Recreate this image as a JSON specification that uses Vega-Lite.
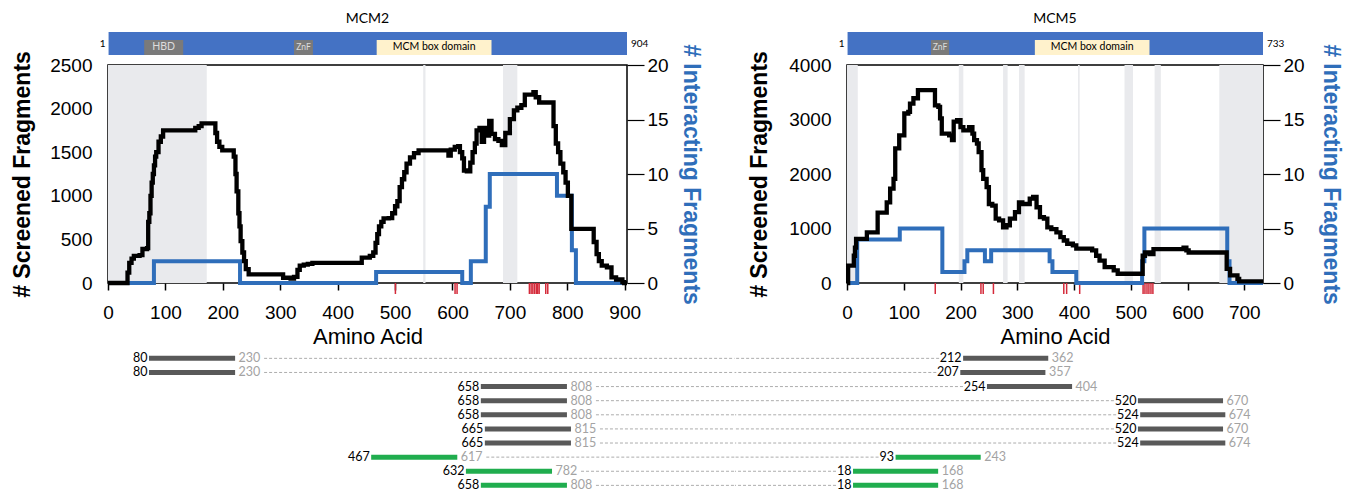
{
  "$schema": "https://vega.github.io/schema/vega-lite/v6.json",
  "background": "white",
  "padding": {"left": 10, "top": 12, "right": 5, "bottom": 3},
  "autosize": {"type": "pad"},
  "datasets": {
    "mcm2_screened": [
      {"aa":0,"n":0},{"aa":34,"n":120},{"aa":37,"n":230},{"aa":41,"n":280},{"aa":45,"n":310},{"aa":55,"n":320},{"aa":60,"n":390},{"aa":68,"n":400},{"aa":70,"n":700},{"aa":72,"n":800},{"aa":74,"n":1000},{"aa":76,"n":1150},{"aa":78,"n":1250},{"aa":80,"n":1350},{"aa":82,"n":1450},{"aa":84,"n":1500},{"aa":88,"n":1620},{"aa":92,"n":1680},{"aa":96,"n":1750},{"aa":150,"n":1750},{"aa":152,"n":1780},{"aa":158,"n":1800},{"aa":163,"n":1830},{"aa":185,"n":1830},{"aa":187,"n":1720},{"aa":190,"n":1620},{"aa":194,"n":1560},{"aa":199,"n":1520},{"aa":216,"n":1520},{"aa":219,"n":1450},{"aa":222,"n":1250},{"aa":224,"n":1050},{"aa":227,"n":800},{"aa":229,"n":650},{"aa":231,"n":480},{"aa":234,"n":350},{"aa":237,"n":250},{"aa":240,"n":160},{"aa":245,"n":100},{"aa":302,"n":100},{"aa":305,"n":60},{"aa":318,"n":50},{"aa":324,"n":70},{"aa":330,"n":150},{"aa":334,"n":200},{"aa":341,"n":210},{"aa":348,"n":220},{"aa":356,"n":230},{"aa":438,"n":230},{"aa":442,"n":290},{"aa":456,"n":310},{"aa":462,"n":350},{"aa":466,"n":460},{"aa":469,"n":560},{"aa":472,"n":650},{"aa":476,"n":700},{"aa":480,"n":740},{"aa":489,"n":745},{"aa":495,"n":800},{"aa":500,"n":880},{"aa":504,"n":940},{"aa":508,"n":1100},{"aa":512,"n":1190},{"aa":516,"n":1270},{"aa":520,"n":1370},{"aa":526,"n":1440},{"aa":533,"n":1490},{"aa":541,"n":1520},{"aa":590,"n":1520},{"aa":593,"n":1460},{"aa":597,"n":1530},{"aa":604,"n":1560},{"aa":610,"n":1570},{"aa":613,"n":1500},{"aa":617,"n":1430},{"aa":620,"n":1290},{"aa":625,"n":1280},{"aa":631,"n":1380},{"aa":635,"n":1500},{"aa":639,"n":1600},{"aa":642,"n":1750},{"aa":647,"n":1780},{"aa":651,"n":1620},{"aa":655,"n":1780},{"aa":659,"n":1690},{"aa":664,"n":1860},{"aa":668,"n":1710},{"aa":674,"n":1650},{"aa":680,"n":1630},{"aa":686,"n":1580},{"aa":692,"n":1720},{"aa":700,"n":1880},{"aa":707,"n":1980},{"aa":713,"n":2010},{"aa":720,"n":2040},{"aa":726,"n":2160},{"aa":741,"n":2190},{"aa":745,"n":2130},{"aa":751,"n":2070},{"aa":773,"n":2070},{"aa":776,"n":1800},{"aa":780,"n":1600},{"aa":784,"n":1500},{"aa":788,"n":1370},{"aa":793,"n":1270},{"aa":797,"n":1150},{"aa":801,"n":1000},{"aa":807,"n":620},{"aa":842,"n":620},{"aa":846,"n":470},{"aa":851,"n":330},{"aa":855,"n":250},{"aa":860,"n":200},{"aa":869,"n":180},{"aa":877,"n":65},{"aa":885,"n":40},{"aa":896,"n":10},{"aa":899,"n":0},{"aa":904,"n":0}
    ],
    "mcm2_interacting": [
      {"aa":0,"n":0},{"aa":80,"n":2},{"aa":230,"n":0},{"aa":467,"n":1},{"aa":617,"n":0},{"aa":632,"n":2},{"aa":658,"n":7},{"aa":665,"n":10},{"aa":782,"n":8},{"aa":808,"n":3},{"aa":815,"n":0},{"aa":904,"n":0}
    ],
    "mcm5_screened": [
      {"aa":0,"n":0},{"aa":2,"n":320},{"aa":10,"n":320},{"aa":12,"n":500},{"aa":14,"n":650},{"aa":16,"n":810},{"aa":35,"n":930},{"aa":54,"n":1290},{"aa":70,"n":1480},{"aa":76,"n":1730},{"aa":82,"n":1910},{"aa":85,"n":2470},{"aa":92,"n":2710},{"aa":101,"n":3110},{"aa":108,"n":3140},{"aa":111,"n":3290},{"aa":117,"n":3390},{"aa":125,"n":3540},{"aa":152,"n":3540},{"aa":155,"n":3260},{"aa":161,"n":3230},{"aa":164,"n":3020},{"aa":167,"n":2740},{"aa":180,"n":2710},{"aa":185,"n":2620},{"aa":188,"n":2960},{"aa":194,"n":2990},{"aa":200,"n":2860},{"aa":205,"n":2800},{"aa":215,"n":2860},{"aa":221,"n":2740},{"aa":224,"n":2620},{"aa":229,"n":2560},{"aa":232,"n":2400},{"aa":237,"n":2070},{"aa":240,"n":1910},{"aa":246,"n":1760},{"aa":250,"n":1450},{"aa":256,"n":1420},{"aa":262,"n":1180},{"aa":268,"n":1150},{"aa":275,"n":1020},{"aa":281,"n":1060},{"aa":287,"n":1180},{"aa":296,"n":1300},{"aa":303,"n":1480},{"aa":309,"n":1450},{"aa":322,"n":1550},{"aa":328,"n":1580},{"aa":334,"n":1390},{"aa":340,"n":1210},{"aa":347,"n":1180},{"aa":353,"n":1020},{"aa":360,"n":990},{"aa":369,"n":930},{"aa":376,"n":840},{"aa":382,"n":780},{"aa":388,"n":720},{"aa":398,"n":690},{"aa":404,"n":630},{"aa":432,"n":600},{"aa":439,"n":500},{"aa":445,"n":410},{"aa":454,"n":290},{"aa":470,"n":230},{"aa":477,"n":170},{"aa":518,"n":170},{"aa":521,"n":500},{"aa":525,"n":560},{"aa":533,"n":530},{"aa":540,"n":620},{"aa":590,"n":620},{"aa":593,"n":650},{"aa":598,"n":600},{"aa":602,"n":560},{"aa":667,"n":560},{"aa":669,"n":260},{"aa":675,"n":140},{"aa":688,"n":75},{"aa":691,"n":30},{"aa":733,"n":30}
    ],
    "mcm5_interacting": [
      {"aa":0,"n":0},{"aa":18,"n":4},{"aa":93,"n":5},{"aa":168,"n":1},{"aa":207,"n":2},{"aa":212,"n":3},{"aa":243,"n":2},{"aa":254,"n":3},{"aa":357,"n":2},{"aa":362,"n":1},{"aa":404,"n":0},{"aa":520,"n":2},{"aa":524,"n":5},{"aa":670,"n":2},{"aa":674,"n":0},{"aa":733,"n":0}
    ],
    "shades": [
      {"protein":"MCM2","start":0,"end":172},{"protein":"MCM2","start":549,"end":553},{"protein":"MCM2","start":688,"end":713},
      {"protein":"MCM5","start":0,"end":19},{"protein":"MCM5","start":197,"end":205},{"protein":"MCM5","start":275,"end":283},{"protein":"MCM5","start":303,"end":313},{"protein":"MCM5","start":407,"end":410},{"protein":"MCM5","start":489,"end":504},{"protein":"MCM5","start":542,"end":553},{"protein":"MCM5","start":656,"end":733}
    ],
    "sites": [
      {"protein":"MCM2","aa":500.6},{"protein":"MCM2","aa":604.5},{"protein":"MCM2","aa":608},{"protein":"MCM2","aa":734},{"protein":"MCM2","aa":737},{"protein":"MCM2","aa":740},{"protein":"MCM2","aa":743},{"protein":"MCM2","aa":746},{"protein":"MCM2","aa":748.5},{"protein":"MCM2","aa":751},{"protein":"MCM2","aa":762.5},{"protein":"MCM2","aa":766},
      {"protein":"MCM5","aa":155.5},{"protein":"MCM5","aa":236},{"protein":"MCM5","aa":240},{"protein":"MCM5","aa":258},{"protein":"MCM5","aa":382},{"protein":"MCM5","aa":387},{"protein":"MCM5","aa":410},{"protein":"MCM5","aa":521.7},{"protein":"MCM5","aa":525},{"protein":"MCM5","aa":528.6},{"protein":"MCM5","aa":532},{"protein":"MCM5","aa":535.6},{"protein":"MCM5","aa":539}
    ],
    "domains": [
      {"protein":"MCM2","kind":"protein","name":"MCM2","start":1,"end":904},
      {"protein":"MCM2","kind":"motif","name":"HBD","start":63,"end":131},
      {"protein":"MCM2","kind":"motif","name":"ZnF","start":324,"end":357},
      {"protein":"MCM2","kind":"domain","name":"MCM box domain","start":468,"end":668},
      {"protein":"MCM5","kind":"protein","name":"MCM5","start":1,"end":733},
      {"protein":"MCM5","kind":"motif","name":"ZnF","start":148,"end":180},
      {"protein":"MCM5","kind":"domain","name":"MCM box domain","start":331,"end":533}
    ],
    "fragments": [
      {"row":1,"protein":"MCM2","start":80,"end":230,"group":"1"},{"row":1,"protein":"MCM5","start":212,"end":362,"group":"1"},
      {"row":2,"protein":"MCM2","start":80,"end":230,"group":"1"},{"row":2,"protein":"MCM5","start":207,"end":357,"group":"1"},
      {"row":3,"protein":"MCM2","start":658,"end":808,"group":"1"},{"row":3,"protein":"MCM5","start":254,"end":404,"group":"1"},
      {"row":4,"protein":"MCM2","start":658,"end":808,"group":"1"},{"row":4,"protein":"MCM5","start":520,"end":670,"group":"1"},
      {"row":5,"protein":"MCM2","start":658,"end":808,"group":"1"},{"row":5,"protein":"MCM5","start":524,"end":674,"group":"1"},
      {"row":6,"protein":"MCM2","start":665,"end":815,"group":"1"},{"row":6,"protein":"MCM5","start":520,"end":670,"group":"1"},
      {"row":7,"protein":"MCM2","start":665,"end":815,"group":"1"},{"row":7,"protein":"MCM5","start":524,"end":674,"group":"1"},
      {"row":8,"protein":"MCM2","start":467,"end":617,"group":"2"},{"row":8,"protein":"MCM5","start":93,"end":243,"group":"2"},
      {"row":9,"protein":"MCM2","start":632,"end":782,"group":"2"},{"row":9,"protein":"MCM5","start":18,"end":168,"group":"2"},
      {"row":10,"protein":"MCM2","start":658,"end":808,"group":"2"},{"row":10,"protein":"MCM5","start":18,"end":168,"group":"2"}
    ]
  },
  "concat": [
    {
      "width": 519, "height": 23,
      "title": {"text": "MCM2", "font": "Lato", "fontSize": 14, "fontWeight": "normal", "offset": 6},
      "data": {"name": "domains"},
      "transform": [{"filter": "datum.protein == 'MCM2'"}],
      "layer": [
        {"transform": [{"filter": "datum.kind == 'protein'"}], "mark": {"type": "rect", "color": "#4472c4"},
         "encoding": {"x": {"field": "start", "type": "quantitative", "scale": {"domain": [0, 904], "nice": false}, "axis": null}, "x2": {"field": "end"}}},
        {"transform": [{"filter": "datum.kind == 'protein'"}], "mark": {"type": "text", "font": "Lato", "fontSize": 10, "align": "right", "dx": -3, "color": "black"},
         "encoding": {"x": {"field": "start", "type": "quantitative"}, "text": {"field": "start"}}},
        {"transform": [{"filter": "datum.kind == 'protein'"}], "mark": {"type": "text", "font": "Lato", "fontSize": 10, "align": "left", "dx": 4, "color": "black"},
         "encoding": {"x": {"field": "end", "type": "quantitative"}, "text": {"field": "end"}}},
        {"transform": [{"filter": "datum.kind == 'motif'"}], "mark": {"type": "rect", "color": "#7a7a7a"},
         "encoding": {"x": {"field": "start", "type": "quantitative"}, "x2": {"field": "end"},
           "y": {"datum": 0, "type": "quantitative", "scale": {"domain": [0, 1]}, "axis": null}, "y2": {"datum": 0.65}}},
        {"transform": [{"filter": "datum.kind == 'domain'"}], "mark": {"type": "rect", "color": "#fff2cc"},
         "encoding": {"x": {"field": "start", "type": "quantitative"}, "x2": {"field": "end"},
           "y": {"datum": 0, "type": "quantitative", "scale": {"domain": [0, 1]}, "axis": null}, "y2": {"datum": 0.65}}},
        {"transform": [{"filter": "datum.kind == 'motif' && datum.name != 'ZnF'"}, {"calculate": "(datum.start + datum.end) / 2", "as": "mid"}], "mark": {"type": "text", "font": "Lato", "fontSize": 10.5, "color": "#dcdcdc", "baseline": "middle"},
         "encoding": {"x": {"field": "mid", "type": "quantitative"}, "y": {"datum": 0.33, "type": "quantitative"}, "text": {"field": "name"}}},
        {"transform": [{"filter": "datum.name == 'ZnF'"}, {"calculate": "(datum.start + datum.end) / 2", "as": "mid"}], "mark": {"type": "text", "font": "Lato", "fontSize": 8.5, "color": "#dcdcdc", "baseline": "middle"},
         "encoding": {"x": {"field": "mid", "type": "quantitative"}, "y": {"datum": 0.33, "type": "quantitative"}, "text": {"field": "name"}}},
        {"transform": [{"filter": "datum.kind == 'domain'"}, {"calculate": "(datum.start + datum.end) / 2", "as": "mid"}], "mark": {"type": "text", "font": "Lato", "fontSize": 10.5, "color": "black", "baseline": "middle"},
         "encoding": {"x": {"field": "mid", "type": "quantitative"}, "y": {"datum": 0.33, "type": "quantitative"}, "text": {"field": "name"}}}
      ]
    },
    {
      "width": 416, "height": 23,
      "title": {"text": "MCM5", "font": "Lato", "fontSize": 14, "fontWeight": "normal", "offset": 6},
      "data": {"name": "domains"},
      "transform": [{"filter": "datum.protein == 'MCM5'"}],
      "layer": [
        {"transform": [{"filter": "datum.kind == 'protein'"}], "mark": {"type": "rect", "color": "#4472c4"},
         "encoding": {"x": {"field": "start", "type": "quantitative", "scale": {"domain": [0, 733], "nice": false}, "axis": null}, "x2": {"field": "end"}}},
        {"transform": [{"filter": "datum.kind == 'protein'"}], "mark": {"type": "text", "font": "Lato", "fontSize": 10, "align": "right", "dx": -3, "color": "black"},
         "encoding": {"x": {"field": "start", "type": "quantitative"}, "text": {"field": "start"}}},
        {"transform": [{"filter": "datum.kind == 'protein'"}], "mark": {"type": "text", "font": "Lato", "fontSize": 10, "align": "left", "dx": 4, "color": "black"},
         "encoding": {"x": {"field": "end", "type": "quantitative"}, "text": {"field": "end"}}},
        {"transform": [{"filter": "datum.kind == 'motif'"}], "mark": {"type": "rect", "color": "#7a7a7a"},
         "encoding": {"x": {"field": "start", "type": "quantitative"}, "x2": {"field": "end"},
           "y": {"datum": 0, "type": "quantitative", "scale": {"domain": [0, 1]}, "axis": null}, "y2": {"datum": 0.65}}},
        {"transform": [{"filter": "datum.kind == 'domain'"}], "mark": {"type": "rect", "color": "#fff2cc"},
         "encoding": {"x": {"field": "start", "type": "quantitative"}, "x2": {"field": "end"},
           "y": {"datum": 0, "type": "quantitative", "scale": {"domain": [0, 1]}, "axis": null}, "y2": {"datum": 0.65}}},
        {"transform": [{"filter": "datum.kind == 'motif'"}, {"calculate": "(datum.start + datum.end) / 2", "as": "mid"}], "mark": {"type": "text", "font": "Lato", "fontSize": 8.5, "color": "#dcdcdc", "baseline": "middle"},
         "encoding": {"x": {"field": "mid", "type": "quantitative"}, "y": {"datum": 0.33, "type": "quantitative"}, "text": {"field": "name"}}},
        {"transform": [{"filter": "datum.kind == 'domain'"}, {"calculate": "(datum.start + datum.end) / 2", "as": "mid"}], "mark": {"type": "text", "font": "Lato", "fontSize": 10.5, "color": "black", "baseline": "middle"},
         "encoding": {"x": {"field": "mid", "type": "quantitative"}, "y": {"datum": 0.33, "type": "quantitative"}, "text": {"field": "name"}}}
      ]
    },
    {
      "width": 519, "height": 218,
      "view": {"stroke": "black", "strokeWidth": 1.5},
      "layer": [
        {"data": {"name": "shades"}, "transform": [{"filter": "datum.protein == 'MCM2'"}],
         "mark": {"type": "rect", "color": "#e9eaed"},
         "encoding": {"x": {"field": "start", "type": "quantitative", "scale": {"domain": [0, 904], "nice": false}}, "x2": {"field": "end"}}},
        {"data": {"name": "sites"}, "transform": [{"filter": "datum.protein == 'MCM2'"}],
         "mark": {"type": "rule", "color": "#d42a3a", "strokeWidth": 1.5},
         "encoding": {"x": {"field": "aa", "type": "quantitative"}, "y": {"datum": 0, "type": "quantitative", "scale": {"domain": [0, 2500], "nice": false}, "axis": null}, "y2": {"datum": -126}}},
        {"data": {"name": "mcm2_interacting"},
         "mark": {"type": "line", "interpolate": "step-after", "color": "#2f6eba", "strokeWidth": 4},
         "encoding": {
           "x": {"field": "aa", "type": "quantitative", "scale": {"domain": [0, 904], "nice": false}},
           "y": {"field": "n", "type": "quantitative", "scale": {"domain": [0, 20], "nice": false},
             "axis": {"orient": "right", "title": "# Interacting Fragments", "values": [0,5,10,15,20], "tickSize": 17, "tickWidth": 1.2, "labelPadding": 3, "labelFontSize": 19, "titleFontSize": 23, "titleFontWeight": "bold", "titleColor": "#2f6eba", "titleX": 63, "titleBaseline": "middle"}}
         }},
        {"data": {"name": "mcm2_screened"},
         "mark": {"type": "line", "interpolate": "step-after", "color": "black", "strokeWidth": 4.3},
         "encoding": {
           "x": {"field": "aa", "type": "quantitative", "scale": {"domain": [0, 904], "nice": false},
             "axis": {"title": "Amino Acid", "values": [0,50,100,150,200,250,300,350,400,450,500,550,600,650,700,750,800,850,900], "labelExpr": "datum.value % 100 == 0 ? datum.label : ''", "tickSize": 7, "tickWidth": 1.5, "labelPadding": 13, "labelFontSize": 19, "labelFlush": false, "titleFontSize": 22, "titleFontWeight": "normal", "titleY": 43, "titleBaseline": "top"}},
           "y": {"field": "n", "type": "quantitative", "scale": {"domain": [0, 2500], "nice": false},
             "axis": {"orient": "left", "title": "# Screened Fragments", "format": "d", "values": [0,500,1000,1500,2000,2500], "ticks": false, "labelPadding": 16, "labelFontSize": 19, "titleFontSize": 23, "titleFontWeight": "bold", "titleX": -86, "titleBaseline": "middle"}}
         }}
      ],
      "resolve": {"scale": {"y": "independent"}}
    },
    {
      "width": 416, "height": 218,
      "view": {"stroke": "black", "strokeWidth": 1.5},
      "layer": [
        {"data": {"name": "shades"}, "transform": [{"filter": "datum.protein == 'MCM5'"}],
         "mark": {"type": "rect", "color": "#e9eaed"},
         "encoding": {"x": {"field": "start", "type": "quantitative", "scale": {"domain": [0, 733], "nice": false}}, "x2": {"field": "end"}}},
        {"data": {"name": "sites"}, "transform": [{"filter": "datum.protein == 'MCM5'"}],
         "mark": {"type": "rule", "color": "#d42a3a", "strokeWidth": 1.5},
         "encoding": {"x": {"field": "aa", "type": "quantitative"}, "y": {"datum": 0, "type": "quantitative", "scale": {"domain": [0, 4000], "nice": false}, "axis": null}, "y2": {"datum": -202}}},
        {"data": {"name": "mcm5_interacting"},
         "mark": {"type": "line", "interpolate": "step-after", "color": "#2f6eba", "strokeWidth": 4},
         "encoding": {
           "x": {"field": "aa", "type": "quantitative", "scale": {"domain": [0, 733], "nice": false}},
           "y": {"field": "n", "type": "quantitative", "scale": {"domain": [0, 20], "nice": false},
             "axis": {"orient": "right", "title": "# Interacting Fragments", "values": [0,5,10,15,20], "tickSize": 17, "tickWidth": 1.2, "labelPadding": 3, "labelFontSize": 19, "titleFontSize": 23, "titleFontWeight": "bold", "titleColor": "#2f6eba", "titleX": 67, "titleBaseline": "middle"}}
         }},
        {"data": {"name": "mcm5_screened"},
         "mark": {"type": "line", "interpolate": "step-after", "color": "black", "strokeWidth": 4.3},
         "encoding": {
           "x": {"field": "aa", "type": "quantitative", "scale": {"domain": [0, 733], "nice": false},
             "axis": {"title": "Amino Acid", "values": [0,50,100,150,200,250,300,350,400,450,500,550,600,650,700], "labelExpr": "datum.value % 100 == 0 ? datum.label : ''", "tickSize": 7, "tickWidth": 1.5, "labelPadding": 13, "labelFontSize": 19, "labelFlush": false, "titleFontSize": 22, "titleFontWeight": "normal", "titleY": 43, "titleBaseline": "top"}},
           "y": {"field": "n", "type": "quantitative", "scale": {"domain": [0, 4000], "nice": false},
             "axis": {"orient": "left", "title": "# Screened Fragments", "format": "d", "values": [0,1000,2000,3000,4000], "ticks": false, "labelPadding": 16, "labelFontSize": 19, "titleFontSize": 23, "titleFontWeight": "bold", "titleX": -88, "titleBaseline": "middle"}}
         }}
      ],
      "resolve": {"scale": {"y": "independent"}}
    },
    {
      "width": 519, "height": 199,
      "data": {"name": "fragments"},
      "transform": [{"filter": "datum.protein == 'MCM2'"}],
      "encoding": {"y": {"field": "row", "type": "quantitative", "scale": {"domain": [-3.63, 10.47], "reverse": true, "nice": false, "zero": false}, "axis": null}},
      "layer": [
        {"mark": {"type": "rule", "color": "#adadad", "strokeWidth": 1, "strokeDash": [3, 2], "xOffset": 29},
         "encoding": {"x": {"field": "end", "type": "quantitative", "scale": {"domain": [8.6, 912.6], "nice": false}, "axis": null}, "x2": {"datum": 1100}}},
        {"mark": {"type": "rule", "strokeWidth": 5},
         "encoding": {"x": {"field": "start", "type": "quantitative"}, "x2": {"field": "end"},
           "color": {"field": "group", "type": "nominal", "scale": {"domain": ["1", "2"], "range": ["#595959", "#20ad4e"]}, "legend": null}}},
        {"mark": {"type": "text", "font": "Lato", "fontSize": 12.5, "align": "right", "dx": -1.5, "baseline": "middle", "color": "black"},
         "encoding": {"x": {"field": "start", "type": "quantitative"}, "text": {"field": "start"}}},
        {"mark": {"type": "text", "font": "Lato", "fontSize": 12.5, "align": "left", "dx": 3.5, "baseline": "middle", "color": "#a3a3a3"},
         "encoding": {"x": {"field": "end", "type": "quantitative"}, "text": {"field": "end"}}}
      ]
    },
    {
      "width": 416, "height": 199,
      "data": {"name": "fragments"},
      "transform": [{"filter": "datum.protein == 'MCM5'"}],
      "encoding": {"y": {"field": "row", "type": "quantitative", "scale": {"domain": [-3.63, 10.47], "reverse": true, "nice": false, "zero": false}, "axis": null}},
      "layer": [
        {"mark": {"type": "rule", "color": "#adadad", "strokeWidth": 1, "strokeDash": [3, 2], "xOffset": {"expr": "datum.start < 100 ? -17 : -24"}},
         "encoding": {"x": {"field": "start", "type": "quantitative", "scale": {"domain": [7.4, 740.4], "nice": false}, "axis": null}, "x2": {"datum": -190}}},
        {"mark": {"type": "rule", "strokeWidth": 5},
         "encoding": {"x": {"field": "start", "type": "quantitative"}, "x2": {"field": "end"},
           "color": {"field": "group", "type": "nominal", "scale": {"domain": ["1", "2"], "range": ["#595959", "#20ad4e"]}, "legend": null}}},
        {"mark": {"type": "text", "font": "Lato", "fontSize": 12.5, "align": "right", "dx": -1.5, "baseline": "middle", "color": "black"},
         "encoding": {"x": {"field": "start", "type": "quantitative"}, "text": {"field": "start"}}},
        {"mark": {"type": "text", "font": "Lato", "fontSize": 12.5, "align": "left", "dx": 3.5, "baseline": "middle", "color": "#a3a3a3"},
         "encoding": {"x": {"field": "end", "type": "quantitative"}, "text": {"field": "end"}}}
      ]
    }
  ],
  "columns": 2,
  "spacing": {"row": 10, "column": 220},
  "align": "each",
  "bounds": "flush",
  "config": {
    "view": {"stroke": null},
    "font": "Liberation Sans",
    "axis": {"grid": false, "domain": false, "labelColor": "black", "titleColor": "black", "tickColor": "black"}
  }
}
